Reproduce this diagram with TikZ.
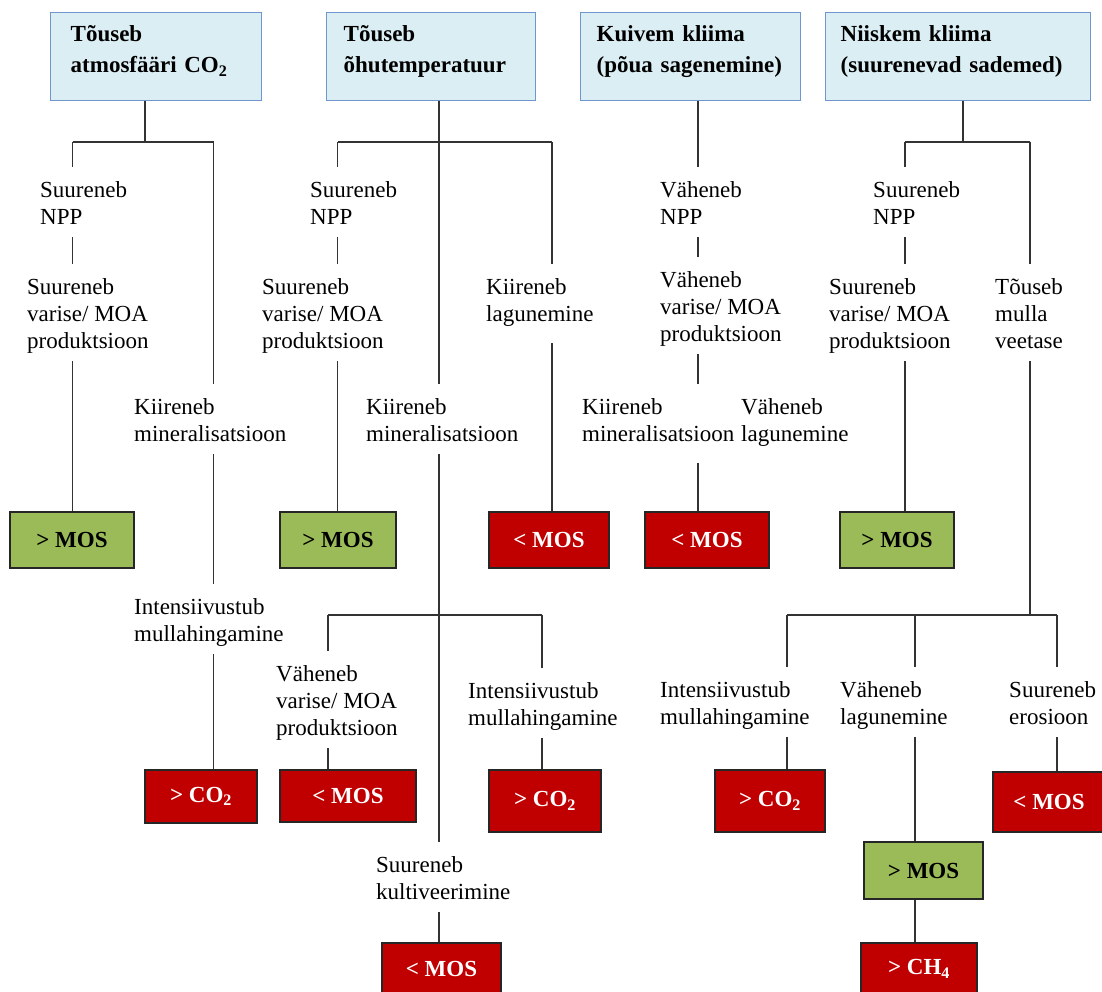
\documentclass[tikz,border=0pt]{standalone}
\usepackage{fontspec}
\setmainfont{Liberation Serif}
\definecolor{hdrfill}{HTML}{DBEEF4}
\definecolor{hdrline}{HTML}{6F97CD}
\definecolor{mosgreen}{HTML}{9BBB59}
\definecolor{mosred}{HTML}{C00000}
\newcommand\myhd[2]{\rule{0pt}{29pt}#1\\#2\rule[-28pt]{0pt}{28pt}}
\newcommand\mytx[1]{\strut#1\strut}
\begin{document}
\begin{tikzpicture}[x=1pt,y=-1pt,
  hdr/.style={draw=hdrline, fill=hdrfill, line width=1.4pt, anchor=north west,
    align=left, inner ysep=0pt, inner xsep=17pt,
    font=\bfseries\fontsize{23}{31}\selectfont},
  lbl/.style={anchor=north west, align=left, inner sep=0pt,
    font=\fontsize{23}{27}\selectfont},
  res/.style={draw=black!85, line width=1.4pt, inner sep=0pt,
    font=\bfseries\fontsize{23}{27}\selectfont},
  gres/.style={res, fill=mosgreen, text=black},
  rres/.style={res, fill=mosred, text=white},
  conn/.style={draw=black!80, line width=1.4pt},
  ga/.style={conn, shorten >=11pt},
  gs/.style={conn, shorten <=5pt},
  gs2/.style={conn, shorten <=14pt},
  gb/.style={conn, shorten <=5pt, shorten >=11pt}
]
\useasboundingbox (0,0) rectangle (1102,992);

% headers
\node[hdr, inner xsep=20pt, text width=171pt] (h1) at (50,12) {\myhd{Tõuseb}{atmosfääri CO\textsubscript{2}}};
\node[hdr, text width=175pt] (h2) at (326,12) {\myhd{Tõuseb}{õhutemperatuur}};
\node[hdr, inner xsep=16pt, text width=188pt] (h3) at (580,12) {\myhd{Kuivem kliima}{(põua sagenemine)}};
\node[hdr, inner xsep=15pt, text width=235pt] (h4) at (825,12) {\myhd{Niiskem kliima}{(suurenevad sademed)}};

% labels: tree 1
\node[lbl] (t1a) at (40,178) {\mytx{Suureneb\\NPP}};
\node[lbl] (t1b) at (27,275) {\mytx{Suureneb\\varise/ MOA\\produktsioon}};
\node[lbl] (t1c) at (134,395) {\mytx{Kiireneb\\mineralisatsioon}};
\node[lbl] (t1d) at (134,595) {\mytx{Intensiivustub\\mullahingamine}};
% tree 2
\node[lbl] (t2a) at (310,178) {\mytx{Suureneb\\NPP}};
\node[lbl] (t2b) at (262,275) {\mytx{Suureneb\\varise/ MOA\\produktsioon}};
\node[lbl] (t2c) at (486,275) {\mytx{Kiireneb\\lagunemine}};
\node[lbl] (t2d) at (366,395) {\mytx{Kiireneb\\mineralisatsioon}};
\node[lbl] (t2e) at (276,662) {\mytx{Väheneb\\varise/ MOA\\produktsioon}};
\node[lbl] (t2f) at (468,679) {\mytx{Intensiivustub\\mullahingamine}};
\node[lbl] (t2g) at (376,853) {\mytx{Suureneb\\kultiveerimine}};
% tree 3
\node[lbl] (t3a) at (660,178) {\mytx{Väheneb\\NPP}};
\node[lbl] (t3b) at (660,268) {\mytx{Väheneb\\varise/ MOA\\produktsioon}};
\node[lbl] (t3c) at (582,395) {\mytx{Kiireneb\\mineralisatsioon}};
\node[lbl] (t3d) at (741,395) {\mytx{Väheneb\\lagunemine}};
% tree 4
\node[lbl] (t4a) at (873,178) {\mytx{Suureneb\\NPP}};
\node[lbl] (t4b) at (829,275) {\mytx{Suureneb\\varise/ MOA\\produktsioon}};
\node[lbl] (t4c) at (995,275) {\mytx{Tõuseb\\mulla\\veetase}};
\node[lbl] (t4d) at (660,678) {\mytx{Intensiivustub\\mullahingamine}};
\node[lbl] (t4e) at (840,678) {\mytx{Väheneb\\lagunemine}};
\node[lbl] (t4f) at (1009,678) {\mytx{Suureneb\\erosioon}};

% result boxes
\node[gres, minimum width=124pt, minimum height=56pt] (g1) at (72,540) {> MOS};
\node[rres, minimum width=112pt, minimum height=53pt] (r1) at (201,796.5) {> CO\textsubscript{2}};
\node[gres, minimum width=116pt, minimum height=56pt] (g2) at (338,540) {> MOS};
\node[rres, minimum width=120pt, minimum height=56pt] (r2) at (549,540) {< MOS};
\node[rres, minimum width=136pt, minimum height=52pt] (r3) at (348,796) {< MOS};
\node[rres, minimum width=112pt, minimum height=62pt] (r4) at (545,801) {> CO\textsubscript{2}};
\node[rres, minimum width=119pt, minimum height=52pt] (r5) at (441.5,969) {< MOS};
\node[rres, minimum width=124pt, minimum height=56pt] (r6) at (707,540) {< MOS};
\node[gres, minimum width=114pt, minimum height=56pt] (g3) at (897,540) {> MOS};
\node[rres, minimum width=110pt, minimum height=62pt] (r7) at (770,801) {> CO\textsubscript{2}};
\node[gres, minimum width=119pt, minimum height=57pt] (g4) at (923.5,870.5) {> MOS};
\node[rres, minimum width=112pt, minimum height=60pt] (r8) at (1049,802) {< MOS};
\node[rres, minimum width=116pt, minimum height=52pt] (r9) at (919,969) {> CH\textsubscript{4}};

% junctions
\coordinate (j1) at (145,142);
\coordinate (j1a) at (72.5,142);
\coordinate (j1b) at (213.5,142);
\coordinate (j2) at (439,142);
\coordinate (j2a) at (337.5,142);
\coordinate (j2b) at (552,142);
\coordinate (j2d) at (328,615);
\coordinate (j2e) at (542,615);
\coordinate (x3) at (698,142);
\coordinate (j4) at (963,142);
\coordinate (j4a) at (905,142);
\coordinate (j4b) at (1030,142);
\coordinate (j4c) at (1030,615);
\coordinate (j4d) at (787,615);
\coordinate (j4e) at (915,615);
\coordinate (j4f) at (1057,615);

% tree 1
\draw[conn] (h1.south -| j1) -- (j1);
\draw[conn] (j1a) -- (j1b);
\draw[ga] (j1a) -- (j1a |- t1a.north);
\draw[gb] (t1a.south -| j1a) -- (t1b.north -| j1a);
\draw[gs] (t1b.south -| j1a) -- (g1.north -| j1a);
\draw[ga] (j1b) -- (j1b |- t1c.north);
\draw[gb] (t1c.south -| j1b) -- (t1d.north -| j1b);
\draw[gs] (t1d.south -| j1b) -- (r1.north -| j1b);

% tree 2
\draw[conn] (h2.south -| j2) -- (j2);
\draw[conn] (j2a) -- (j2b);
\draw[ga] (j2) -- (j2 |- t2d.north);
\draw[ga] (j2a) -- (j2a |- t2a.north);
\draw[gb] (t2a.south -| j2a) -- (t2b.north -| j2a);
\draw[gs] (t2b.south -| j2a) -- (g2.north -| j2a);
\draw[ga] (j2b) -- (j2b |- t2c.north);
\draw[gs2] (t2c.south -| j2b) -- (r2.north -| j2b);
\draw[gb] (t2d.south -| j2) -- (t2g.north -| j2);
\draw[conn] (j2d) -- (j2e);
\draw[ga] (j2d) -- (j2d |- t2e.north);
\draw[gs] (t2e.south -| j2d) -- (r3.north -| j2d);
\draw[ga] (j2e) -- (j2e |- t2f.north);
\draw[gs] (t2f.south -| j2e) -- (r4.north -| j2e);
\draw[gs] (t2g.south -| j2) -- (r5.north -| j2);

% tree 3
\draw[ga] (h3.south -| x3) -- (x3 |- t3a.north);
\draw[gb] (t3a.south -| x3) -- (t3b.north -| x3);
\draw[gb] (t3b.south -| x3) -- (t3c.north -| x3);
\draw[gs2] (t3c.south -| x3) -- (r6.north -| x3);

% tree 4
\draw[conn] (h4.south -| j4) -- (j4);
\draw[conn] (j4a) -- (j4b);
\draw[ga] (j4a) -- (j4a |- t4a.north);
\draw[gb] (t4a.south -| j4a) -- (t4b.north -| j4a);
\draw[gs] (t4b.south -| j4a) -- (g3.north -| j4a);
\draw[ga] (j4b) -- (j4b |- t4c.north);
\draw[gs] (t4c.south -| j4b) -- (j4c);
\draw[conn] (j4d) -- (j4f);
\draw[ga] (j4d) -- (j4d |- t4d.north);
\draw[ga] (j4e) -- (j4e |- t4e.north);
\draw[ga] (j4f) -- (j4f |- t4f.north);
\draw[gs] (t4d.south -| j4d) -- (r7.north -| j4d);
\draw[gs] (t4e.south -| j4e) -- (g4.north -| j4e);
\draw[gs] (t4f.south -| j4f) -- (r8.north -| j4f);
\draw[conn] (g4.south -| j4e) -- (r9.north -| j4e);
\end{tikzpicture}
\end{document}
